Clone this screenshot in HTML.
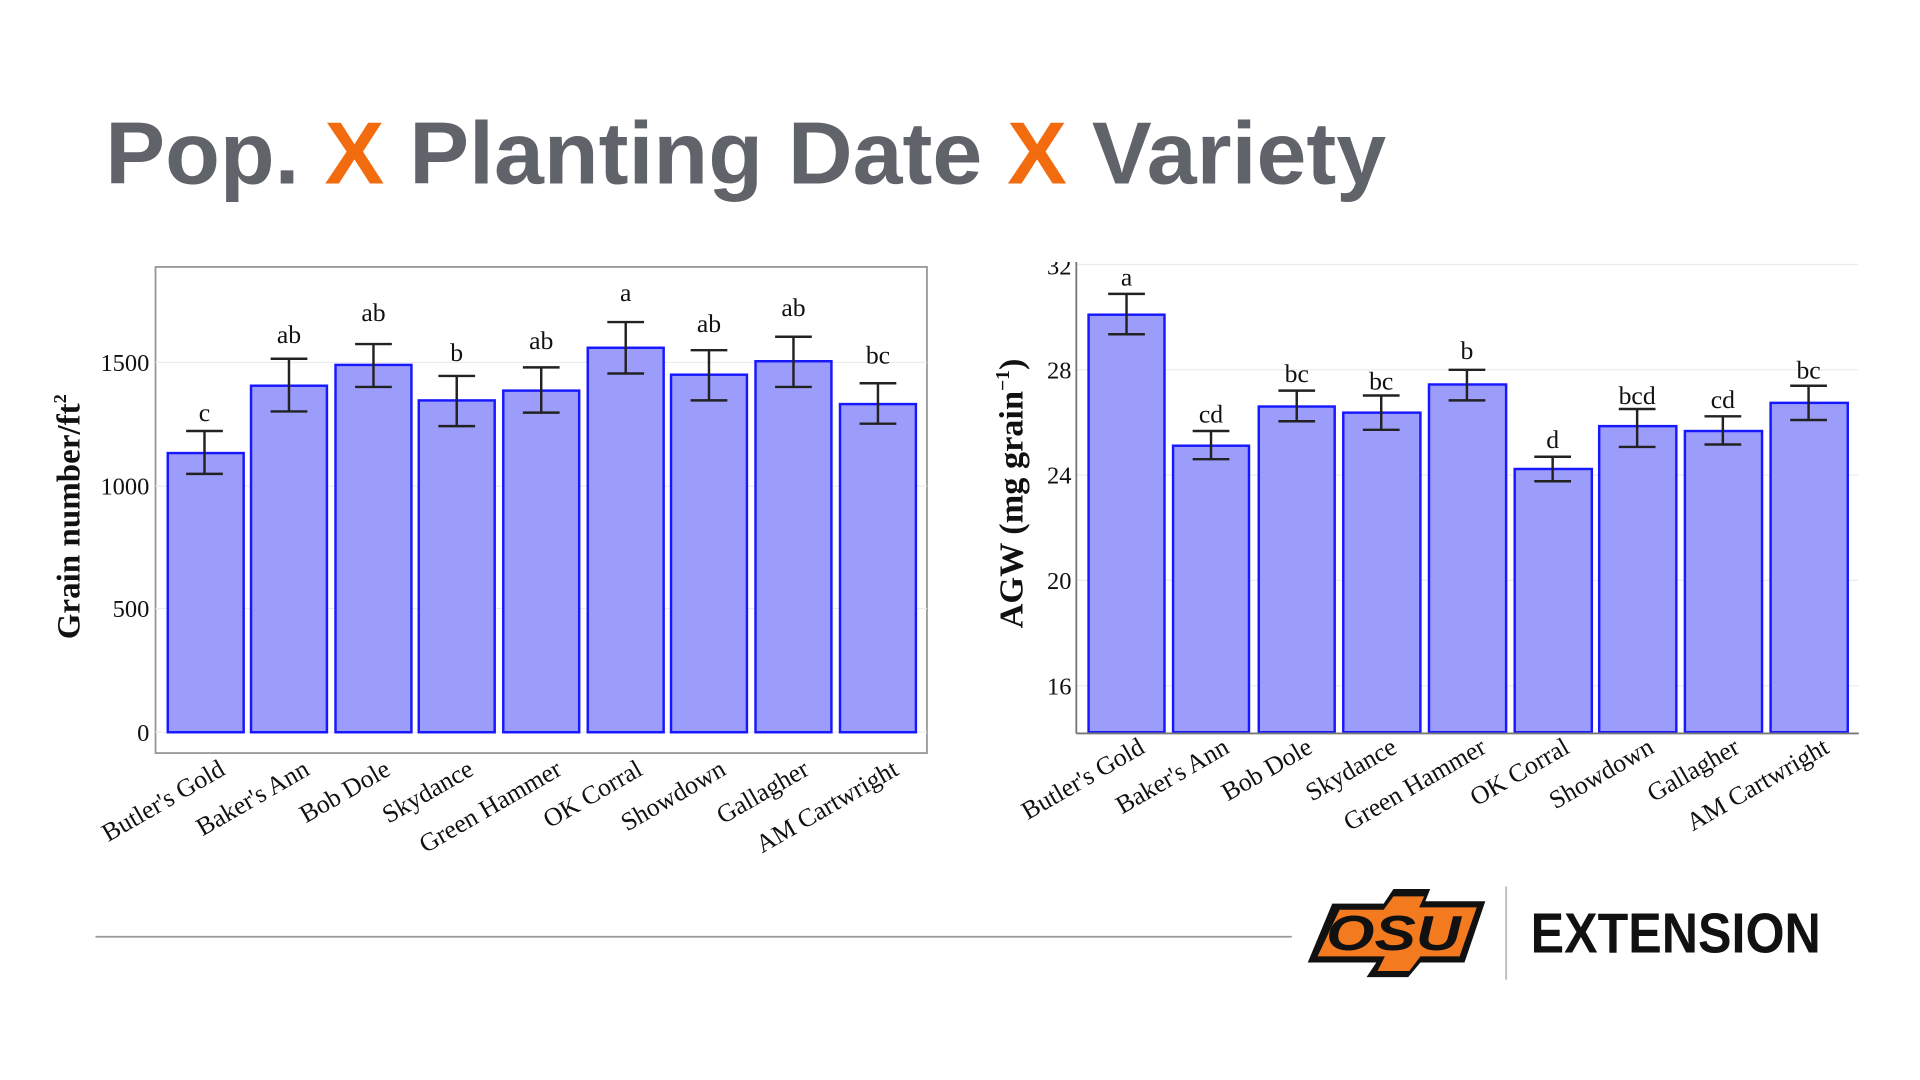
<!DOCTYPE html>
<html><head><meta charset="utf-8"><style>html,body{margin:0;padding:0;background:#fff;}svg{display:block}</style></head>
<body>
<svg width="1920" height="1080" viewBox="0 0 1568 882" xmlns="http://www.w3.org/2000/svg">
<rect width="1568" height="882" fill="#fff"/>
<text x="86" y="150" font-family="Liberation Sans, sans-serif" font-weight="bold" font-size="72" fill="#606369" textLength="1046" lengthAdjust="spacingAndGlyphs">Pop. <tspan fill="#f26b0f">X</tspan> Planting Date <tspan fill="#f26b0f">X</tspan> Variety</text>

<!-- LEFT CHART -->
<g font-family="Liberation Serif, serif" fill="#111">
<rect x="127" y="218" width="630" height="397" fill="#fff" stroke="#999" stroke-width="1.5"/>
<g stroke="#ececec" stroke-width="1"><line x1="127" y1="296" x2="757" y2="296"/><line x1="127" y1="397" x2="757" y2="397"/><line x1="127" y1="497" x2="757" y2="497"/><line x1="127" y1="598" x2="757" y2="598"/></g>
<g font-size="20" text-anchor="end"><text x="122" y="303">1500</text><text x="122" y="404">1000</text><text x="122" y="504">500</text><text x="122" y="605">0</text></g>
<text transform="translate(65,422) rotate(-90)" text-anchor="middle" font-size="27" font-weight="bold">Grain number/ft<tspan font-size="15" dy="-11">2</tspan></text>
<g fill="#9c9cfb" stroke="#1818ff" stroke-width="2">
<rect x="137" y="370" width="62" height="228"/><rect x="205" y="315" width="62" height="283"/><rect x="274" y="298" width="62" height="300"/><rect x="342" y="327" width="62" height="271"/><rect x="411" y="319" width="62" height="279"/><rect x="480" y="284" width="62" height="314"/><rect x="548" y="306" width="62" height="292"/><rect x="617" y="295" width="62" height="303"/><rect x="686" y="330" width="62" height="268"/>
</g>
<g stroke="#222" stroke-width="2" fill="none">
<path d="M152 352h30M152 387h30M167 352v35"/><path d="M221 293h30M221 336h30M236 293v43"/><path d="M290 281h30M290 316h30M305 281v35"/><path d="M358 307h30M358 348h30M373 307v41"/><path d="M427 300h30M427 337h30M442 300v37"/><path d="M496 263h30M496 305h30M511 263v42"/><path d="M564 286h30M564 327h30M579 286v41"/><path d="M633 275h30M633 316h30M648 275v41"/><path d="M702 313h30M702 346h30M717 313v33"/>
</g>
<g font-size="21" text-anchor="middle"><text x="167" y="344">c</text><text x="236" y="280">ab</text><text x="305" y="262">ab</text><text x="373" y="295">b</text><text x="442" y="285">ab</text><text x="511" y="246">a</text><text x="579" y="271">ab</text><text x="648" y="258">ab</text><text x="717" y="297">bc</text></g>
<g font-size="21" text-anchor="end">
<text transform="translate(185,632) rotate(-30)">Butler's Gold</text><text transform="translate(254,632) rotate(-30)">Baker's Ann</text><text transform="translate(320,632) rotate(-30)">Bob Dole</text><text transform="translate(388,632) rotate(-30)">Skydance</text><text transform="translate(460,632) rotate(-30)">Green Hammer</text><text transform="translate(526,632) rotate(-30)">OK Corral</text><text transform="translate(594,632) rotate(-30)">Showdown</text><text transform="translate(662,632) rotate(-30)">Gallagher</text><text transform="translate(735,632) rotate(-30)">AM Cartwright</text>
</g>
</g>

<!-- RIGHT CHART -->
<g font-family="Liberation Serif, serif" fill="#111">
<g stroke="#ececec" stroke-width="1"><line x1="879" y1="216" x2="1518" y2="216"/><line x1="879" y1="302" x2="1518" y2="302"/><line x1="879" y1="388" x2="1518" y2="388"/><line x1="879" y1="474" x2="1518" y2="474"/><line x1="879" y1="560" x2="1518" y2="560"/></g>
<g font-size="20" text-anchor="end"><text x="875" y="224">32</text><text x="875" y="309">28</text><text x="875" y="395">24</text><text x="875" y="481">20</text><text x="875" y="567">16</text></g>
<rect x="800" y="195" width="78" height="19" fill="#fff"/>
<text transform="translate(835,403) rotate(-90)" text-anchor="middle" font-size="28" font-weight="bold">AGW (mg grain<tspan font-size="16" dy="-11">−1</tspan><tspan dy="11">)</tspan></text>
<g fill="#9c9cfb" stroke="#1818ff" stroke-width="2">
<rect x="889" y="257" width="62" height="341"/><rect x="958" y="364" width="62" height="234"/><rect x="1028" y="332" width="62" height="266"/><rect x="1097" y="337" width="63" height="261"/><rect x="1167" y="314" width="63" height="284"/><rect x="1237" y="383" width="63" height="215"/><rect x="1306" y="348" width="63" height="250"/><rect x="1376" y="352" width="63" height="246"/><rect x="1446" y="329" width="63" height="269"/>
</g>
<g stroke="#777" stroke-width="1.5"><line x1="879" y1="214" x2="879" y2="599"/><line x1="879" y1="599" x2="1518" y2="599"/></g>
<g stroke="#222" stroke-width="2" fill="none">
<path d="M905 240h30M905 273h30M920 240v33"/><path d="M974 352h30M974 375h30M989 352v23"/><path d="M1044 319h30M1044 344h30M1059 319v25"/><path d="M1113 323h30M1113 351h30M1128 323v28"/><path d="M1183 302h30M1183 327h30M1198 302v25"/><path d="M1253 373h30M1253 393h30M1268 373v20"/><path d="M1322 334h30M1322 365h30M1337 334v31"/><path d="M1392 340h30M1392 363h30M1407 340v23"/><path d="M1462 315h30M1462 343h30M1477 315v28"/>
</g>
<g font-size="21" text-anchor="middle"><text x="920" y="233">a</text><text x="989" y="345">cd</text><text x="1059" y="312">bc</text><text x="1128" y="318">bc</text><text x="1198" y="293">b</text><text x="1268" y="366">d</text><text x="1337" y="330">bcd</text><text x="1407" y="333">cd</text><text x="1477" y="309">bc</text></g>
<g font-size="21" text-anchor="end">
<text transform="translate(936,614) rotate(-30)">Butler's Gold</text><text transform="translate(1005,614) rotate(-30)">Baker's Ann</text><text transform="translate(1073,614) rotate(-30)">Bob Dole</text><text transform="translate(1142,614) rotate(-30)">Skydance</text><text transform="translate(1215,614) rotate(-30)">Green Hammer</text><text transform="translate(1283,614) rotate(-30)">OK Corral</text><text transform="translate(1352,614) rotate(-30)">Showdown</text><text transform="translate(1422,614) rotate(-30)">Gallagher</text><text transform="translate(1495,614) rotate(-30)">AM Cartwright</text>
</g>
</g>

<!-- FOOTER -->
<line x1="78" y1="765" x2="1055" y2="765" stroke="#9a9a9a" stroke-width="1.5"/>
<g transform="translate(1068,724)">
<path d="M20 14 L62 14 L70 2 L100 2 L96 12 L145 12 L128 62 L92 62 L82 74 L48 74 L56 62 L0 62 Z" fill="#111"/>
<path d="M26 19 L62 19 L70 8 L95 8 L91 17 L138 17 L124 57 L92 57 L83 69 L57 69 L63 57 L8 57 Z" fill="#f47a20"/>
<text x="70" y="52" text-anchor="middle" font-family="Liberation Sans, sans-serif" font-weight="bold" font-style="italic" font-size="40" fill="#111" textLength="110" lengthAdjust="spacingAndGlyphs">OSU</text>
</g>
<line x1="1230" y1="724" x2="1230" y2="800" stroke="#bbb" stroke-width="1.5"/>
<text x="1250" y="778" font-family="Liberation Sans, sans-serif" font-weight="bold" font-size="46" fill="#111" textLength="237" lengthAdjust="spacingAndGlyphs">EXTENSION</text>
</svg>
</body></html>
